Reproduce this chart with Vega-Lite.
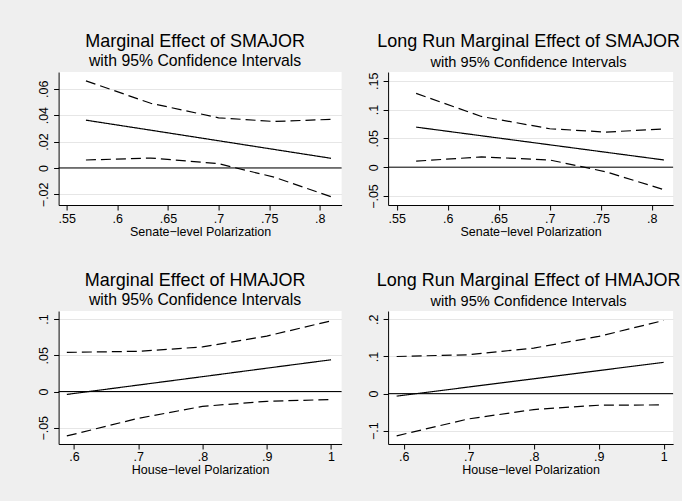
{
  "$schema": "https://vega.github.io/schema/vega-lite/v6.json",
  "padding": {"left": 36.6, "top": 33, "right": 1.5, "bottom": 24},
  "background": "#efefef",
  "bounds": "flush",
  "columns": 2,
  "spacing": {"row": 106, "column": 46.5},
  "config": {
    "font": "Liberation Sans",
    "view": {"fill": "white", "stroke": null},
    "axis": {"domainColor": "black", "tickColor": "black", "labelColor": "black", "titleColor": "black", "labelFontSize": 12.5, "titleFontSize": 12.5, "titleFontWeight": "normal", "tickSize": 5, "domainWidth": 1, "tickWidth": 1, "labelFont": "Liberation Sans", "titleFont": "Liberation Sans", "labelFlush": false, "labelOverlap": false},
    "axisX": {"grid": false, "labelPadding": 2, "titlePadding": 0.5},
    "axisY": {"grid": true, "gridColor": "#e6e6e6", "gridWidth": 1, "labelAngle": 270, "labelAlign": "center", "labelBaseline": "alphabetic", "labelPadding": 6},
    "title": {"fontSize": 18, "fontWeight": "normal", "subtitleFontSize": 15, "color": "black", "subtitleColor": "black", "anchor": "middle", "offset": 2.8, "subtitlePadding": 3.4, "font": "Liberation Sans", "subtitleFont": "Liberation Sans"}
  },
  "concat": [
    {
      "width": 283, "height": 133,
      "title": {"text": "Marginal Effect of SMAJOR", "subtitle": "with 95% Confidence Intervals", "subtitleFontSize": 15.8, "dx": -5},
      "encoding": {
        "y": {"field": "y", "type": "quantitative", "scale": {"domain": [-0.0281, 0.0727], "nice": false, "zero": false}, "axis": {"values": [-0.02, 0, 0.02, 0.04, 0.06], "labelExpr": "replace(format(datum.value, '.2~f'), '0.', '.')", "title": null}}
      },
      "layer": [
        {
          "data": {"values": [{"y": 0}]},
          "mark": {"type": "rule", "color": "black", "strokeWidth": 1},
          "encoding": {}
        },
        {
          "data": {"values": [
            {"x": 0.569, "y": 0.0362, "s": "est"}, {"x": 0.633, "y": 0.0286, "s": "est"}, {"x": 0.7, "y": 0.0206, "s": "est"}, {"x": 0.755, "y": 0.014, "s": "est"}, {"x": 0.811, "y": 0.0073, "s": "est"},
            {"x": 0.569, "y": 0.066, "s": "hi"}, {"x": 0.633, "y": 0.049, "s": "hi"}, {"x": 0.7, "y": 0.038, "s": "hi"}, {"x": 0.755, "y": 0.0352, "s": "hi"}, {"x": 0.811, "y": 0.0368, "s": "hi"},
            {"x": 0.569, "y": 0.006, "s": "lo"}, {"x": 0.633, "y": 0.0075, "s": "lo"}, {"x": 0.7, "y": 0.0032, "s": "lo"}, {"x": 0.755, "y": -0.007, "s": "lo"}, {"x": 0.811, "y": -0.0218, "s": "lo"}
          ]},
          "mark": {"type": "line", "color": "black", "strokeWidth": 1.2},
          "encoding": {
            "x": {"field": "x", "type": "quantitative", "scale": {"domain": [0.542, 0.8215], "nice": false, "zero": false}, "axis": {"values": [0.55, 0.6, 0.65, 0.7, 0.75, 0.8], "labelExpr": "replace(format(datum.value, '.2~f'), '0.', '.')", "title": "Senate−level Polarization"}},
            "detail": {"field": "s"},
            "strokeDash": {"field": "s", "type": "nominal", "scale": {"domain": ["est", "lo", "hi"], "range": [[1, 0], [10, 5], [10, 5]]}, "legend": null}
          }
        }
      ]
    },
    {
      "width": 285, "height": 133,
      "title": {"text": "Long Run Marginal Effect of SMAJOR", "subtitle": "with 95% Confidence Intervals", "subtitleFontSize": 14.6, "dx": -2},
      "encoding": {
        "y": {"field": "y", "type": "quantitative", "scale": {"domain": [-0.0656, 0.1651], "nice": false, "zero": false}, "axis": {"values": [-0.05, 0, 0.05, 0.1, 0.15], "labelExpr": "replace(format(datum.value, '.2~f'), '0.', '.')", "title": null}}
      },
      "layer": [
        {
          "data": {"values": [{"y": 0}]},
          "mark": {"type": "rule", "color": "black", "strokeWidth": 1},
          "encoding": {}
        },
        {
          "data": {"values": [
            {"x": 0.569, "y": 0.0695, "s": "est"}, {"x": 0.633, "y": 0.0545, "s": "est"}, {"x": 0.7, "y": 0.0388, "s": "est"}, {"x": 0.755, "y": 0.0259, "s": "est"}, {"x": 0.812, "y": 0.0125, "s": "est"},
            {"x": 0.569, "y": 0.128, "s": "hi"}, {"x": 0.633, "y": 0.088, "s": "hi"}, {"x": 0.7, "y": 0.0667, "s": "hi"}, {"x": 0.755, "y": 0.0609, "s": "hi"}, {"x": 0.812, "y": 0.0663, "s": "hi"},
            {"x": 0.569, "y": 0.0105, "s": "lo"}, {"x": 0.633, "y": 0.0178, "s": "lo"}, {"x": 0.7, "y": 0.0125, "s": "lo"}, {"x": 0.755, "y": -0.008, "s": "lo"}, {"x": 0.812, "y": -0.039, "s": "lo"}
          ]},
          "mark": {"type": "line", "color": "black", "strokeWidth": 1.2},
          "encoding": {
            "x": {"field": "x", "type": "quantitative", "scale": {"domain": [0.5415, 0.8209], "nice": false, "zero": false}, "axis": {"values": [0.55, 0.6, 0.65, 0.7, 0.75, 0.8], "labelExpr": "replace(format(datum.value, '.2~f'), '0.', '.')", "title": "Senate−level Polarization"}},
            "detail": {"field": "s"},
            "strokeDash": {"field": "s", "type": "nominal", "scale": {"domain": ["est", "lo", "hi"], "range": [[1, 0], [10, 5], [10, 5]]}, "legend": null}
          }
        }
      ]
    },
    {
      "width": 283, "height": 133,
      "title": {"text": "Marginal Effect of HMAJOR", "subtitle": "with 95% Confidence Intervals", "subtitleFontSize": 15.8, "dx": -5},
      "encoding": {
        "y": {"field": "y", "type": "quantitative", "scale": {"domain": [-0.0724, 0.1111], "nice": false, "zero": false}, "axis": {"values": [-0.05, 0, 0.05, 0.1], "labelExpr": "replace(format(datum.value, '.2~f'), '0.', '.')", "title": null}}
      },
      "layer": [
        {
          "data": {"values": [{"y": 0}]},
          "mark": {"type": "rule", "color": "black", "strokeWidth": 1},
          "encoding": {}
        },
        {
          "data": {"values": [
            {"x": 0.589, "y": -0.004, "s": "est"}, {"x": 0.7, "y": 0.0089, "s": "est"}, {"x": 0.8, "y": 0.0205, "s": "est"}, {"x": 0.9, "y": 0.0322, "s": "est"}, {"x": 1.0, "y": 0.0438, "s": "est"},
            {"x": 0.589, "y": 0.054, "s": "hi"}, {"x": 0.7, "y": 0.0555, "s": "hi"}, {"x": 0.8, "y": 0.0615, "s": "hi"}, {"x": 0.9, "y": 0.0765, "s": "hi"}, {"x": 1.0, "y": 0.0975, "s": "hi"},
            {"x": 0.589, "y": -0.0613, "s": "lo"}, {"x": 0.7, "y": -0.037, "s": "lo"}, {"x": 0.8, "y": -0.0205, "s": "lo"}, {"x": 0.9, "y": -0.0135, "s": "lo"}, {"x": 1.0, "y": -0.011, "s": "lo"}
          ]},
          "mark": {"type": "line", "color": "black", "strokeWidth": 1.2},
          "encoding": {
            "x": {"field": "x", "type": "quantitative", "scale": {"domain": [0.5762, 1.0164], "nice": false, "zero": false}, "axis": {"values": [0.6, 0.7, 0.8, 0.9, 1], "labelExpr": "replace(format(datum.value, '.2~f'), '0.', '.')", "title": "House−level Polarization"}},
            "detail": {"field": "s"},
            "strokeDash": {"field": "s", "type": "nominal", "scale": {"domain": ["est", "lo", "hi"], "range": [[1, 0], [10, 5], [10, 5]]}, "legend": null}
          }
        }
      ]
    },
    {
      "width": 285, "height": 133,
      "title": {"text": "Long Run Marginal Effect of HMAJOR", "subtitle": "with 95% Confidence Intervals", "subtitleFontSize": 14.6, "dx": -2},
      "encoding": {
        "y": {"field": "y", "type": "quantitative", "scale": {"domain": [-0.1357, 0.2225], "nice": false, "zero": false}, "axis": {"values": [-0.1, 0, 0.1, 0.2], "labelExpr": "replace(format(datum.value, '.2~f'), '0.', '.')", "title": null}}
      },
      "layer": [
        {
          "data": {"values": [{"y": 0}]},
          "mark": {"type": "rule", "color": "black", "strokeWidth": 1},
          "encoding": {}
        },
        {
          "data": {"values": [
            {"x": 0.589, "y": -0.0068, "s": "est"}, {"x": 0.7, "y": 0.0178, "s": "est"}, {"x": 0.8, "y": 0.0399, "s": "est"}, {"x": 0.9, "y": 0.062, "s": "est"}, {"x": 1.0, "y": 0.0842, "s": "est"},
            {"x": 0.589, "y": 0.1, "s": "hi"}, {"x": 0.7, "y": 0.1047, "s": "hi"}, {"x": 0.8, "y": 0.1226, "s": "hi"}, {"x": 0.9, "y": 0.154, "s": "hi"}, {"x": 1.0, "y": 0.197, "s": "hi"},
            {"x": 0.589, "y": -0.1136, "s": "lo"}, {"x": 0.7, "y": -0.068, "s": "lo"}, {"x": 0.8, "y": -0.043, "s": "lo"}, {"x": 0.9, "y": -0.0313, "s": "lo"}, {"x": 1.0, "y": -0.0304, "s": "lo"}
          ]},
          "mark": {"type": "line", "color": "black", "strokeWidth": 1.2},
          "encoding": {
            "x": {"field": "x", "type": "quantitative", "scale": {"domain": [0.5758, 1.0146], "nice": false, "zero": false}, "axis": {"values": [0.6, 0.7, 0.8, 0.9, 1], "labelExpr": "replace(format(datum.value, '.2~f'), '0.', '.')", "title": "House−level Polarization"}},
            "detail": {"field": "s"},
            "strokeDash": {"field": "s", "type": "nominal", "scale": {"domain": ["est", "lo", "hi"], "range": [[1, 0], [10, 5], [10, 5]]}, "legend": null}
          }
        }
      ]
    }
  ]
}
